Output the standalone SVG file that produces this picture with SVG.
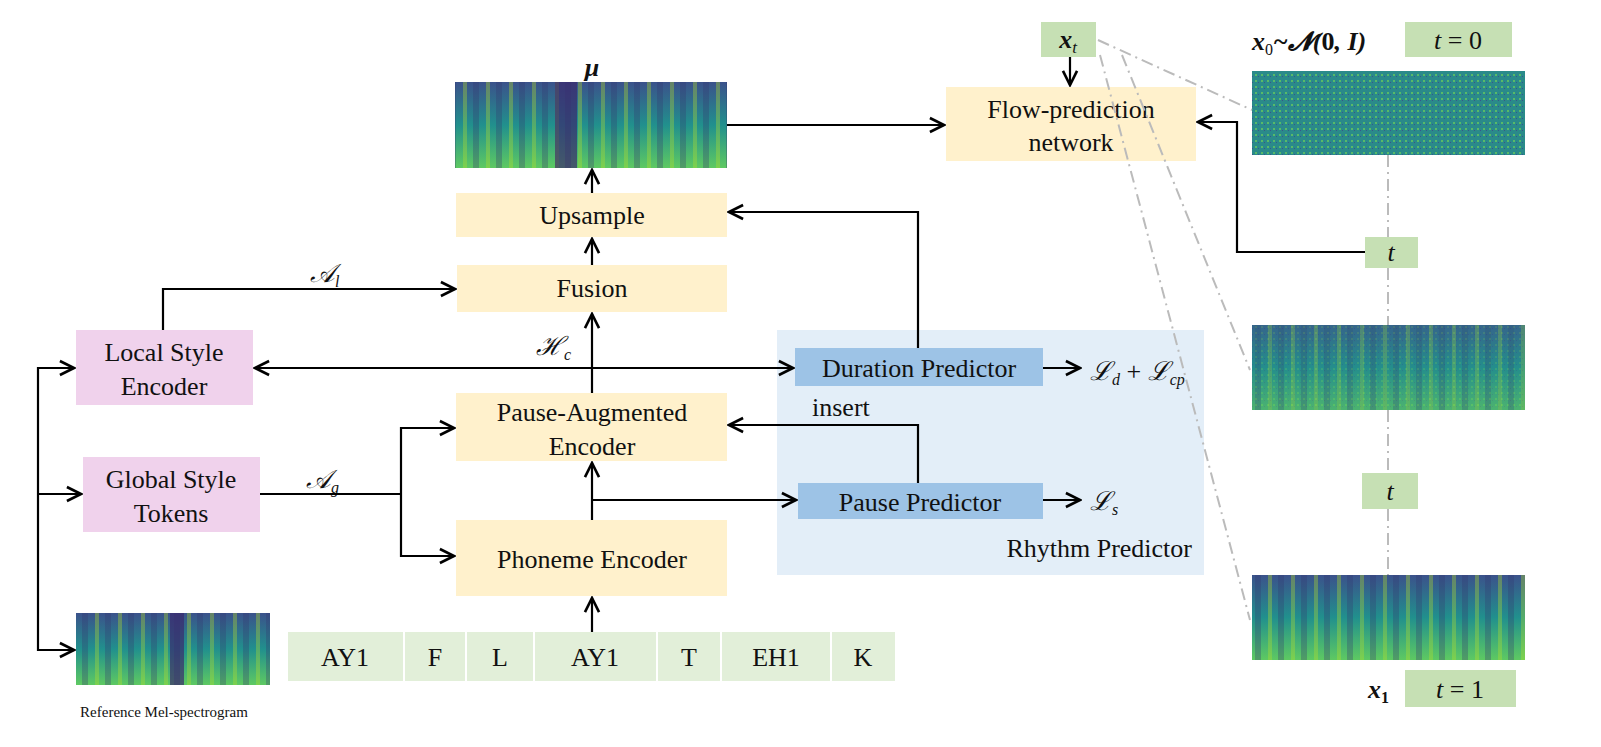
<svg xmlns="http://www.w3.org/2000/svg" width="1601" height="747" viewBox="0 0 1601 747">
<style>
.t{font-family:"Liberation Serif",serif;font-size:26px;fill:#111;text-anchor:middle}
.m{font-family:"Liberation Serif",serif;font-style:italic;font-size:26px;fill:#111}
.y{fill:#fff1cc}.p{fill:#f0d2ec}.g{fill:#c6e0b4}.b{fill:#9dc3e6}.tk{fill:#e2efd9}
.c{fill:none;stroke:#000;stroke-width:2.2}
.d{fill:none;stroke:#bbb;stroke-width:2;stroke-dasharray:12 5 2 5}
</style>
<defs>
<marker id="a" viewBox="0 0 10 10" refX="9" refY="5" markerWidth="8" markerHeight="8" orient="auto-start-reverse"><path d="M1,1 L9,5 L1,9" fill="none" stroke="#000" stroke-width="1.5"/></marker>
<linearGradient id="sv" x1="0" y1="0" x2="0" y2="1"><stop offset="0" stop-color="#3b528b"/><stop offset="0.5" stop-color="#21908d"/><stop offset="1" stop-color="#5ec962"/></linearGradient>
<pattern id="st" width="23" height="10" patternUnits="userSpaceOnUse"><rect x="3" width="4" height="10" fill="#b5de2b" opacity="0.35"/><rect x="13" width="6" height="10" fill="#31356e" opacity="0.3"/></pattern>
<pattern id="nz" width="6" height="6" patternUnits="userSpaceOnUse"><rect width="6" height="6" fill="#2a8a8a"/><rect x="1" y="2" width="2" height="2" fill="#6ccf5a" opacity="0.7"/><rect x="4" y="4" width="1" height="1" fill="#3b528b"/></pattern>
</defs>
<rect width="1601" height="747" fill="#fff"/>
<rect x="777" y="330" width="427" height="245" fill="#deebf7" opacity="0.85"/>
<g id="mu"><rect x="455" y="82" width="272" height="86" fill="url(#sv)"/><rect x="455" y="82" width="272" height="86" fill="url(#st)"/><rect x="555" y="82" width="22" height="86" fill="#3b2a6e" opacity="0.7"/><text x="592" y="76" class="t" font-weight="bold" font-style="italic">μ</text></g>
<g id="upsample"><rect x="456" y="193" width="271" height="44" class="y"/><text x="592" y="224" class="t">Upsample</text></g>
<g id="fusion"><rect x="457" y="265" width="270" height="47" class="y"/><text x="592" y="297" class="t">Fusion</text></g>
<g id="pae"><rect x="456" y="393" width="271" height="68" class="y"/><text x="592" y="421" class="t">Pause-Augmented</text><text x="592" y="455" class="t">Encoder</text></g>
<g id="phon"><rect x="456" y="520" width="271" height="76" class="y"/><text x="592" y="568" class="t">Phoneme Encoder</text></g>
<g id="lse"><rect x="76" y="330" width="177" height="75" class="p"/><text x="164" y="361" class="t">Local Style</text><text x="164" y="395" class="t">Encoder</text></g>
<g id="gst"><rect x="83" y="457" width="177" height="75" class="p"/><text x="171" y="488" class="t">Global Style</text><text x="171" y="522" class="t">Tokens</text></g>
<g id="ref"><rect x="76" y="613" width="194" height="72" fill="url(#sv)"/><rect x="76" y="613" width="194" height="72" fill="url(#st)"/><rect x="170" y="613" width="14" height="72" fill="#3b2a6e" opacity="0.7"/><text x="164" y="717" class="t" style="font-size:15px">Reference Mel-spectrogram</text></g>
<g id="tokens"><rect x="288" y="632" width="115" height="49" class="tk"/><text x="345" y="666" class="t">AY1</text><rect x="405" y="632" width="60" height="49" class="tk"/><text x="435" y="666" class="t">F</text><rect x="467" y="632" width="66" height="49" class="tk"/><text x="500" y="666" class="t">L</text><rect x="535" y="632" width="121" height="49" class="tk"/><text x="595" y="666" class="t">AY1</text><rect x="658" y="632" width="62" height="49" class="tk"/><text x="689" y="666" class="t">T</text><rect x="722" y="632" width="108" height="49" class="tk"/><text x="776" y="666" class="t">EH1</text><rect x="832" y="632" width="63" height="49" class="tk"/><text x="863" y="666" class="t">K</text></g>
<g id="dur"><rect x="795" y="348" width="248" height="38" class="b"/><text x="919" y="377" class="t">Duration Predictor</text></g>
<g id="pause"><rect x="798" y="483" width="245" height="36" class="b"/><text x="920" y="511" class="t">Pause Predictor</text></g>
<g id="flow"><rect x="946" y="87" width="250" height="74" class="y"/><text x="1071" y="118" class="t">Flow-prediction</text><text x="1071" y="151" class="t">network</text></g>
<g id="xt"><rect x="1041" y="22" width="55" height="35" class="g"/><text x="1068" y="48" class="m" font-weight="bold" text-anchor="middle">x<tspan font-size="17" dy="5" font-weight="normal">t</tspan></text></g>
<g id="x0"><text x="1252" y="50" class="m" font-weight="bold">x<tspan font-size="16" dy="5" font-style="normal" font-weight="normal">0</tspan><tspan dy="-5">~𝓝(<tspan font-style="normal">0</tspan>, I)</tspan></text><rect x="1405" y="22" width="107" height="35" class="g"/><text x="1458" y="49" class="t"><tspan font-style="italic">t</tspan> = 0</text></g>
<g id="noise"><rect x="1252" y="71" width="273" height="84" fill="url(#nz)"/></g>
<g id="tb1"><rect x="1365" y="237" width="53" height="31" class="g"/><text x="1391" y="261" class="m" text-anchor="middle">t</text></g>
<g id="spec2"><rect x="1252" y="325" width="273" height="85" fill="url(#sv)"/><rect x="1252" y="325" width="273" height="85" fill="url(#st)"/><rect x="1252" y="325" width="273" height="85" fill="url(#nz)" opacity="0.35"/></g>
<g id="tb2"><rect x="1362" y="473" width="56" height="36" class="g"/><text x="1390" y="500" class="m" text-anchor="middle">t</text></g>
<g id="spec3"><rect x="1252" y="575" width="273" height="85" fill="url(#sv)"/><rect x="1252" y="575" width="273" height="85" fill="url(#st)"/></g>
<g id="x1"><text x="1368" y="698" class="m" font-weight="bold">x<tspan font-size="16" dy="5" font-style="normal">1</tspan></text><rect x="1405" y="670" width="111" height="37" class="g"/><text x="1460" y="698" class="t"><tspan font-style="italic">t</tspan> = 1</text></g>
<g id="labels">
<text x="310" y="282" class="m">𝒜<tspan font-size="16" dy="5">l</tspan></text>
<text x="306" y="488" class="m">𝒜<tspan font-size="16" dy="5">g</tspan></text>
<text x="536" y="355" class="m">ℋ<tspan font-size="16" dy="5">c</tspan></text>
<text x="812" y="416" class="t" style="text-anchor:start">insert</text>
<text x="1192" y="557" class="t" style="text-anchor:end">Rhythm Predictor</text>
<text x="1090" y="380" class="m">ℒ<tspan font-size="16" dy="5">d</tspan><tspan dy="-5" font-style="normal"> + </tspan>ℒ<tspan font-size="16" dy="5">cp</tspan></text>
<text x="1090" y="510" class="m">ℒ<tspan font-size="16" dy="5">s</tspan></text>
</g>
<g id="connectors">
<path class="c" d="M727,125 H944" marker-end="url(#a)"/>
<path class="c" d="M1070,57 V85" marker-end="url(#a)"/>
<path class="c" d="M1365,252 H1237 V122 H1198" marker-end="url(#a)"/>
<path class="c" d="M918,348 V212 H729" marker-end="url(#a)"/>
<path class="c" d="M592,193 V170" marker-end="url(#a)"/>
<path class="c" d="M592,265 V239" marker-end="url(#a)"/>
<path class="c" d="M592,393 V314" marker-end="url(#a)"/>
<path class="c" d="M255,368 H793" marker-start="url(#a)" marker-end="url(#a)"/>
<path class="c" d="M163,330 V289 H455" marker-end="url(#a)"/>
<path class="c" d="M260,494 H401"/>
<path class="c" d="M454,428 H401 V556 H454" marker-start="url(#a)" marker-end="url(#a)"/>
<path class="c" d="M592,520 V463" marker-end="url(#a)"/>
<path class="c" d="M592,500 H796" marker-end="url(#a)"/>
<path class="c" d="M918,483 V425 H729" marker-end="url(#a)"/>
<path class="c" d="M1043,368 H1080" marker-end="url(#a)"/>
<path class="c" d="M1043,500 H1080" marker-end="url(#a)"/>
<path class="c" d="M74,368 H38 V650 H74" marker-start="url(#a)" marker-end="url(#a)"/>
<path class="c" d="M38,494 H81" marker-end="url(#a)"/>
<path class="c" d="M592,632 V598" marker-end="url(#a)"/>
<path class="d" d="M1098,40 L1252,110"/>
<path class="d" d="M1122,55 L1250,370"/>
<path class="d" d="M1100,55 L1250,620"/>
<path class="d" d="M1388,155 V237 M1388,268 V325 M1388,410 V473 M1388,509 V575"/>
</g>
</svg>
